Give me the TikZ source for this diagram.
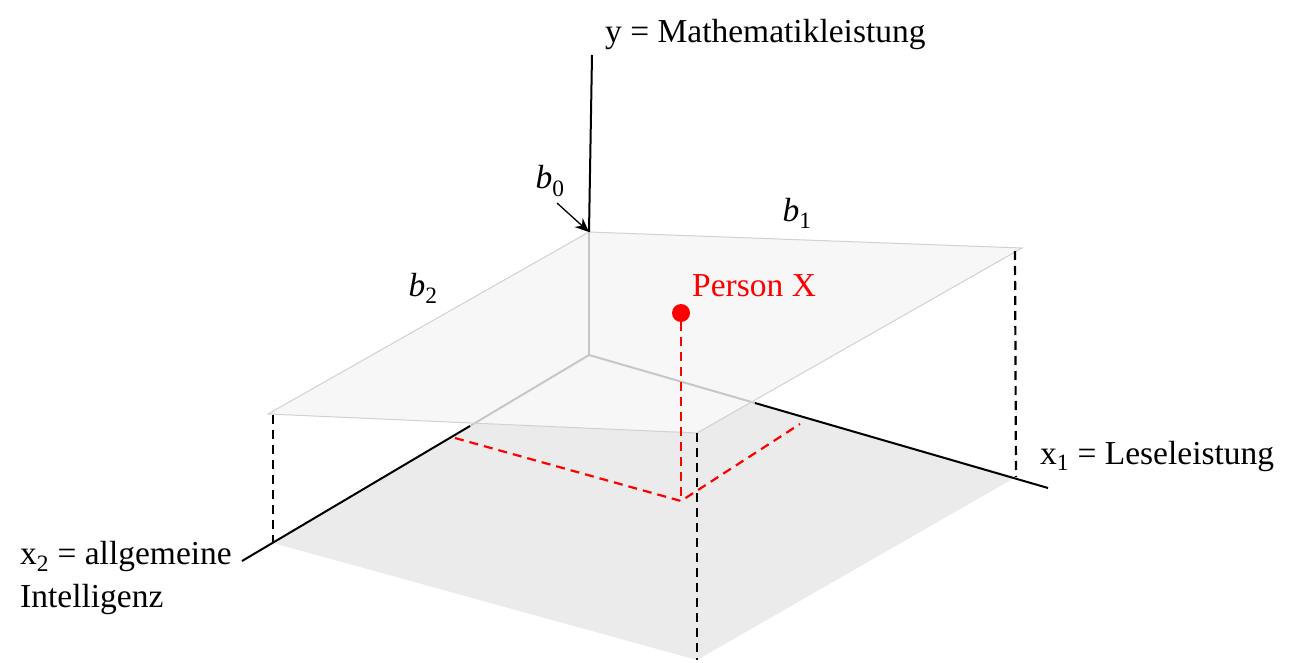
\documentclass[tikz,border=0pt]{standalone}
\usepackage{fontspec}
\setmainfont{Liberation Serif}
\usetikzlibrary{arrows.meta}
\begin{document}
\begin{tikzpicture}[x=1pt,y=-1pt,
  lbl/.style={inner sep=0pt,font=\fontsize{33.5}{43}\selectfont},
  axis/.style={line width=2pt,black},
  hidden/.style={line width=2pt,black!22},
  planeedge/.style={line width=1pt,black!18},
  vdash/.style={line width=2.2pt,black,dash pattern=on 9pt off 6pt},
  rdash/.style={line width=2.2pt,red,dash pattern=on 9pt off 6pt}]
\useasboundingbox (0,0) rectangle (1304,663);
% points
\coordinate (O) at (589,355);
\coordinate (F1) at (1016,477);
\coordinate (F2) at (697,660);
\coordinate (F3) at (273,543);
\coordinate (P0) at (589,232);
\coordinate (P1) at (1022,248);
\coordinate (P2) at (697,433);
\coordinate (P3) at (268,414);
\coordinate (Ytop) at (592,55);
\coordinate (X1e) at (1048,488);
\coordinate (X2e) at (242,561);
\coordinate (X1c) at (755,403);
\coordinate (X2c) at (470,426);
\coordinate (R0) at (681,501);
\coordinate (R1) at (455,438);
\coordinate (R2) at (800,424);
% floor
\fill[black!8] (O) -- (F1) -- (F2) -- (F3) -- cycle;
% plane
\fill[black!3] (P0) -- (P1) -- (P2) -- (P3) -- cycle;
% hidden axes
\draw[hidden] (P0) -- (O);
\draw[hidden] (O) -- (X1c);
\draw[hidden] (O) -- (X2c);
\draw[planeedge] (P0) -- (P1) -- (P2) -- (P3) -- cycle;
% visible axes
\draw[axis] (P0) -- (Ytop);
\draw[axis] (X1c) -- (X1e);
\draw[axis] (X2c) -- (X2e);
% vertical dashed
\draw[vdash] (273,415) -- (F3);
\draw[vdash] (1015,251) -- (F1);
\draw[vdash] (P2) -- (F2);
% red
\node[circle,fill=red,inner sep=0pt,minimum size=18pt] (px) at (681,313) {};
\draw[rdash] (px.south) -- (R0);
\draw[rdash] (R1) -- (R0) -- (R2);
% labels
\node[lbl,anchor=west] (ylab) at (605,34) {y = Mathematikleistung};
\node[lbl,anchor=west] (x1lab) at (1040,456) {x\textsubscript{1} = Leseleistung};
\node[lbl,anchor=north west,align=left] (x2lab) at (20,541) {x\textsubscript{2} = allgemeine\\Intelligenz};
\node[lbl,text=red,anchor=west] (pxlab) at (692,286) {Person X};
\node[lbl] (b0) at (550,181) {\textit{b}\textsubscript{0}};
\node[lbl] (b1) at (797,213) {\textit{b}\textsubscript{1}};
\node[lbl] (b2) at (423,288) {\textit{b}\textsubscript{2}};
\draw[line width=1.3pt,-{Stealth[length=14pt,width=12pt]}] (557,203) -- (P0);
\end{tikzpicture}
\end{document}
